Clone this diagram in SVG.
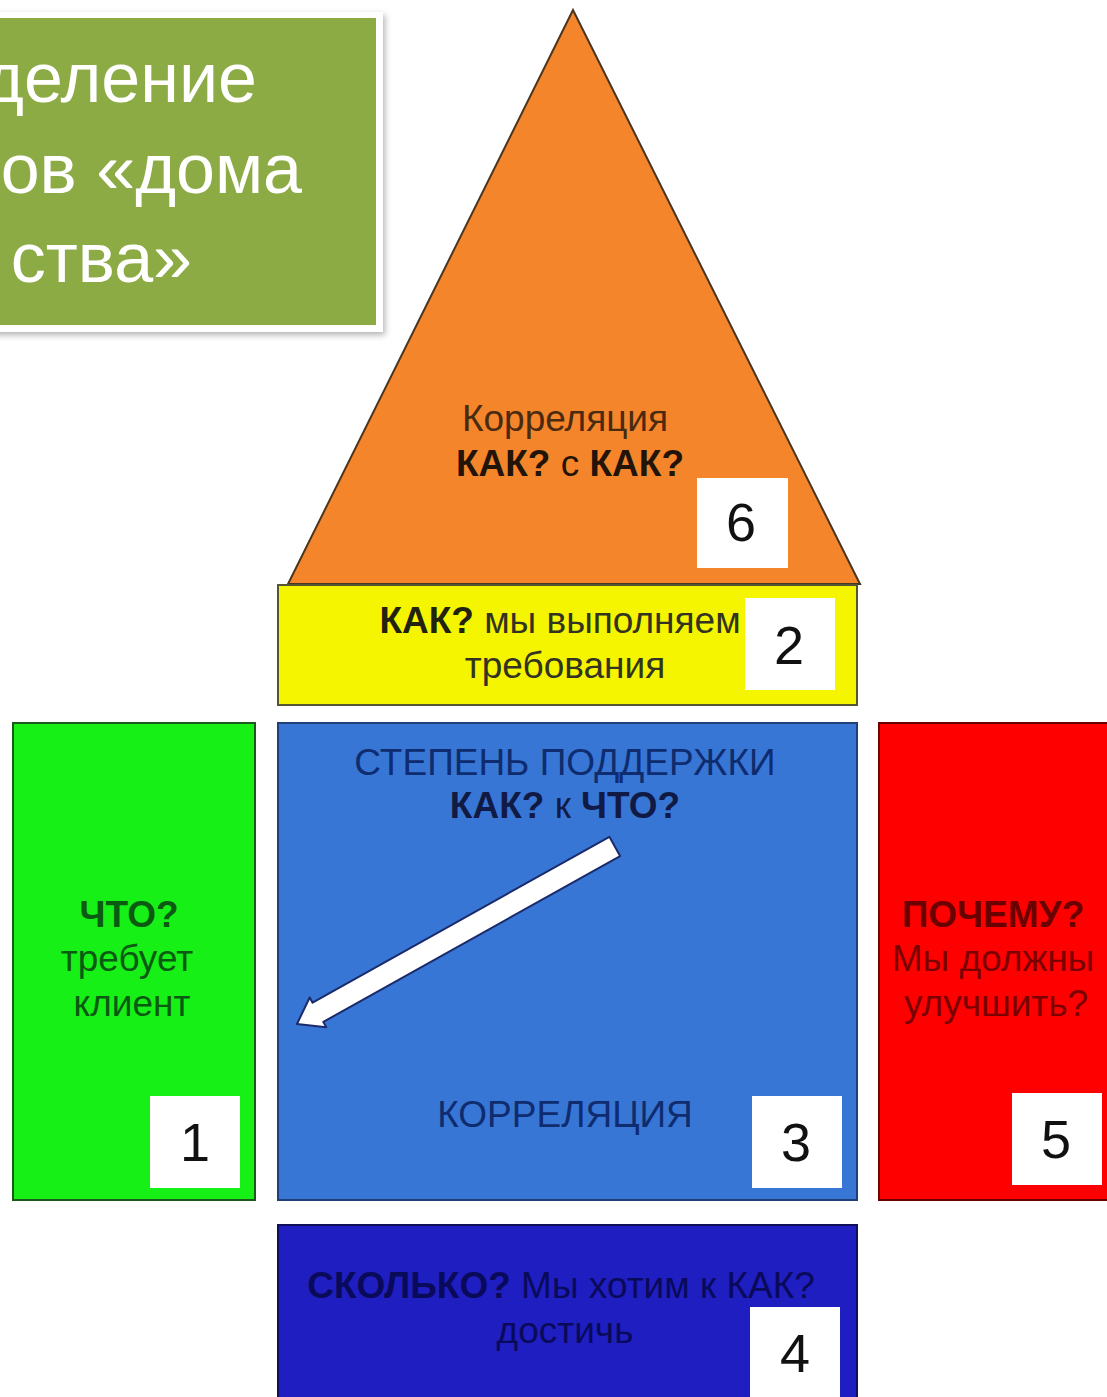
<svg xmlns="http://www.w3.org/2000/svg" width="1107" height="1397" viewBox="0 0 1107 1397">
  <defs>
    <filter id="sh" x="-10%" y="-10%" width="120%" height="120%">
      <feDropShadow dx="2" dy="3" stdDeviation="3" flood-color="#000" flood-opacity="0.3"/>
    </filter>
    <style>
      text { font-family: "Liberation Sans", Arial, sans-serif; }
      .num { font-size: 54px; fill: #111; text-anchor: middle; }
      .badge { fill: #ffffff; }
      .lbl { font-size: 37px; text-anchor: middle; }
      .b { font-weight: bold; }
      .title { font-size: 70px; fill: #ffffff; }
    </style>
  </defs>
  <rect width="1107" height="1397" fill="#ffffff"/>

  <g id="title">
    <rect x="-10" y="12" width="393" height="320" fill="#ffffff" filter="url(#sh)"/>
    <rect x="0" y="18" width="376" height="307" fill="#8cab45"/>
    <text class="title" x="257" y="102" text-anchor="end">деление</text>
    <text class="title" x="302" y="193" text-anchor="end">ов «дома</text>
    <text class="title" x="192" y="282" text-anchor="end">ства»</text>
  </g>

  <g id="node6">
    <polygon points="573,10 288,584 860,584" fill="#f5852a" stroke="#4a3520" stroke-width="2"/>
    <text class="lbl" x="565" y="431" fill="#4a2a10">Корреляция</text>
    <text class="lbl b" x="570" y="476" fill="#221408">КАК? <tspan font-weight="normal">с</tspan> КАК?</text>
    <rect class="badge" x="697" y="478" width="91" height="90"/>
    <text class="num" x="741" y="541">6</text>
  </g>

  <g id="node2">
    <rect x="278" y="585" width="579" height="120" fill="#f5f500" stroke="#555533" stroke-width="2"/>
    <text class="lbl" x="560" y="633" fill="#333322"><tspan class="b" fill="#222211">КАК?</tspan> мы выполняем</text>
    <text class="lbl" x="565" y="678" fill="#333322">требования</text>
    <rect class="badge" x="745" y="598" width="90" height="92"/>
    <text class="num" x="789" y="664">2</text>
  </g>

  <g id="node1">
    <rect x="13" y="723" width="242" height="477" fill="#17f017" stroke="#1a5a1a" stroke-width="2"/>
    <text class="lbl b" x="129" y="927" fill="#0b5a12">ЧТО?</text>
    <text class="lbl" x="127" y="971" fill="#0b5a12">требует</text>
    <text class="lbl" x="132" y="1016" fill="#0b5a12">клиент</text>
    <rect class="badge" x="150" y="1096" width="90" height="92"/>
    <text class="num" x="195" y="1161">1</text>
  </g>

  <g id="node3">
    <rect x="278" y="723" width="579" height="477" fill="#3876d6" stroke="#1f3f7a" stroke-width="2"/>
    <text class="lbl" x="565" y="775" fill="#0e2c6e">СТЕПЕНЬ ПОДДЕРЖКИ</text>
    <text class="lbl b" x="565" y="818" fill="#111a44">КАК? <tspan font-weight="normal">к</tspan> ЧТО?</text>
    <text class="lbl" x="565" y="1127" fill="#0e2c6e">КОРРЕЛЯЦИЯ</text>
    <rect class="badge" x="752" y="1096" width="90" height="92"/>
    <text class="num" x="796" y="1161">3</text>
  </g>

  <g id="node5">
    <rect x="879" y="723" width="240" height="477" fill="#ff0000" stroke="#6a0000" stroke-width="2"/>
    <text class="lbl b" x="993" y="927" fill="#6a0000">ПОЧЕМУ?</text>
    <text class="lbl" x="993" y="971" fill="#7a0000">Мы должны</text>
    <text class="lbl" x="996" y="1016" fill="#7a0000">улучшить?</text>
    <rect class="badge" x="1012" y="1093" width="90" height="92"/>
    <text class="num" x="1056" y="1158">5</text>
  </g>

  <g id="node4">
    <rect x="278" y="1225" width="579" height="180" fill="#1f1ec0" stroke="#10105a" stroke-width="2"/>
    <text class="lbl" x="561" y="1298" fill="#0a0a5a"><tspan class="b">СКОЛЬКО?</tspan> Мы хотим к КАК?</text>
    <text class="lbl" x="565" y="1343" fill="#0a0a5a">достичь</text>
    <rect class="badge" x="750" y="1307" width="90" height="92"/>
    <text class="num" x="795" y="1372">4</text>
  </g>

  <g id="connectors">
    <polygon transform="translate(297,1024) rotate(-29.2)" points="0,0 24,-17 24,-11 364,-11 364,11 24,11 24,17" fill="#ffffff" stroke="#1a2a6a" stroke-width="2" stroke-linejoin="round"/>
  </g>
</svg>
